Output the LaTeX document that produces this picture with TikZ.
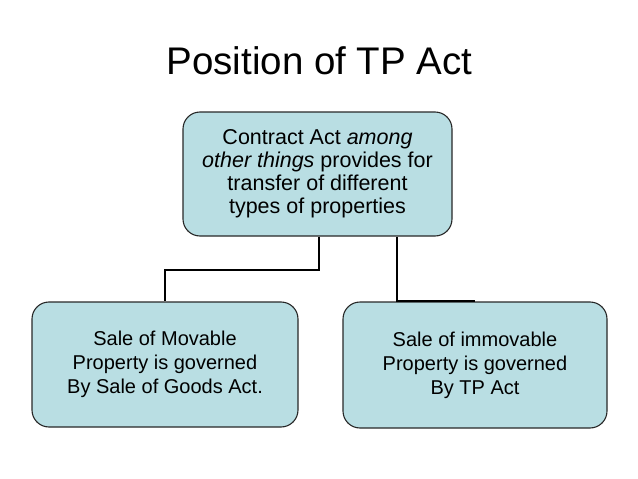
\documentclass[tikz,border=0pt]{standalone}
\usepackage{fontspec}
\setmainfont{Liberation Sans}
\usetikzlibrary{positioning}
\definecolor{boxfill}{RGB}{185,222,227}
\definecolor{boxline}{RGB}{40,40,40}

\begin{document}
\begin{tikzpicture}[x=1pt, y=-1pt,
    actbox/.style={draw=boxline, line width=1.1pt, fill=boxfill, rounded corners=17pt,
        align=center, inner sep=0pt, font=\fontsize{20}{24}\selectfont},
    link/.style={draw=black, line width=2pt}]
\useasboundingbox[fill=white] (0,0) rectangle (638,479);

\node[font=\fontsize{38.5}{40}\selectfont, anchor=base] (title) at (319.5,74) {Position of TP Act};

\node[actbox, font=\fontsize{21.5}{23}\selectfont, minimum width=269pt, minimum height=124pt] (contract) at (317.5,174)
    {Contract Act \textit{among}\\ \textit{other things} provides for\\ transfer of different\\ types of properties};
\node[actbox, minimum width=266pt, minimum height=125pt] (movable) at (165,364.5)
    {Sale of Movable\\ Property is governed\\ By Sale of Goods Act.};
\node[actbox, minimum width=264pt, minimum height=126pt] (immovable) at (475,365)
    {Sale of immovable\\ Property is governed\\ By TP Act};

\draw[link] ([xshift=1.5pt]contract.south) -- ++(0,33) -| (movable.north);
\draw[link] ([xshift=79pt]contract.south) |- (immovable.north);

\end{tikzpicture}
\end{document}
